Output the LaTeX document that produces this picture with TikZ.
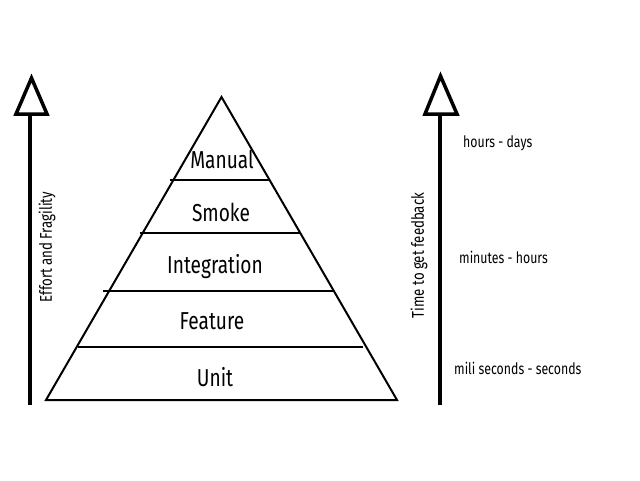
\documentclass[tikz,border=0pt]{standalone}
\usepackage{fontspec}
\newfontfamily\hand[FakeStretch=0.78]{Fira Sans}
\begin{document}
\begin{tikzpicture}[x=1pt,y=-1pt,
  tri/.style={draw=black,line width=2pt,line join=miter},
  divider/.style={draw=black,line width=1.3pt},
  shaft/.style={draw=black,line width=4pt},
  head/.style={draw=black,fill=white,line width=3.5pt,line join=miter},
  layer/.style={font=\hand\fontsize{24.5}{27}\selectfont,inner sep=0pt},
  side/.style={font=\hand\fontsize{17}{19}\selectfont,inner sep=0pt},
  note/.style={font=\hand\fontsize{15.8}{18}\selectfont,inner sep=0pt,anchor=west}]
\useasboundingbox (0,0) rectangle (640,480);
% pyramid
\coordinate (apex) at (221.5,97);
\coordinate (bl) at (46,400);
\coordinate (br) at (397,400);
\draw[tri] (bl) -- (apex) -- (br) -- cycle;
\coordinate (d1l) at (170,180); \coordinate (d1r) at (269,180);
\coordinate (d2l) at (140,233); \coordinate (d2r) at (300,233);
\coordinate (d3l) at (103,291); \coordinate (d3r) at (333,291);
\coordinate (d4l) at (78,347);  \coordinate (d4r) at (363,347);
\draw[divider] (d1l) -- (d1r);
\draw[divider] (d2l) -- (d2r);
\draw[divider] (d3l) -- (d3r);
\draw[divider] (d4l) -- (d4r);
\node[layer] (manual) at (222,159) {Manual};
\node[layer] (smoke) at (221,212) {Smoke};
\node[layer] (integ) at (215,267) {Integration};
\node[layer] (feat) at (212,321) {Feature};
\node[layer] (unit) at (215,377) {Unit};
% left arrow
\coordinate (lbot) at (30,405);
\coordinate (ltop) at (30,112);
\draw[shaft] (lbot) -- (ltop);
\draw[head] (31.5,78) -- (47,114) -- (16,114) -- cycle;
\node[side,rotate=90] (effort) at (47,247) {Effort and Fragility};
% right arrow
\coordinate (rbot) at (440,405);
\coordinate (rtop) at (440,112);
\draw[shaft] (rbot) -- (rtop);
\draw[head] (440.5,76) -- (457,114) -- (425,114) -- cycle;
\node[side,rotate=90] (time) at (419,255.5) {Time to get feedback};
\node[note] (n1) at (463,143) {hours - days};
\node[note] (n2) at (459,257) {minutes - hours};
\node[note] (n3) at (454,368) {mili seconds - seconds};
\end{tikzpicture}
\end{document}
